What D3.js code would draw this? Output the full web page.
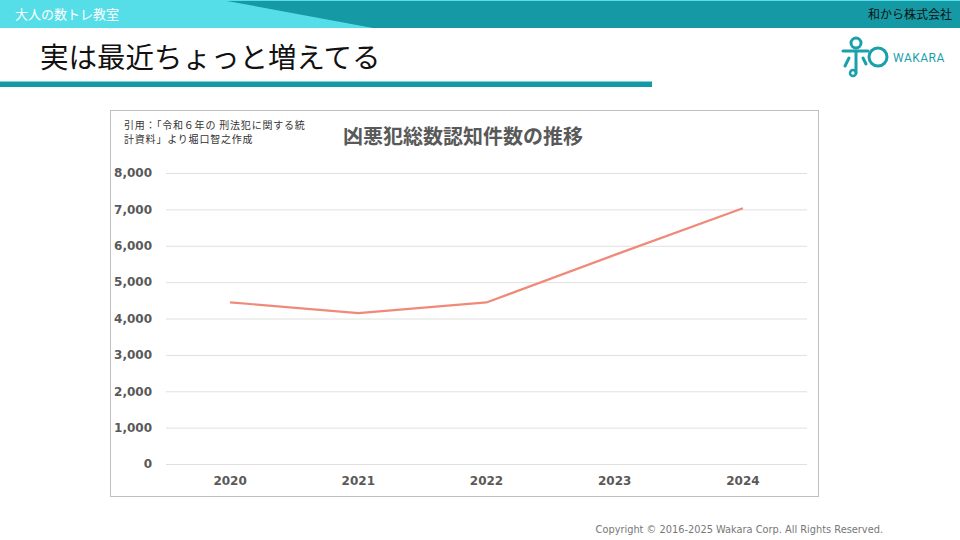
<!DOCTYPE html>
<html>
<head>
<meta charset="utf-8">
<script src="https://cdn.jsdelivr.net/npm/d3@7"></script>
<style>
  body { margin: 0; background: #fff; }
  svg { display: block; font-family: "Noto Sans CJK JP", "Noto Sans", sans-serif; }
</style>
</head>
<body>
<svg id="chart" width="960" height="540"></svg>
<script>
// data
var years = ["2020", "2021", "2022", "2023", "2024"];
var counts = [4444, 4149, 4441, 5750, 7030];
var yTicks = [0, 1000, 2000, 3000, 4000, 5000, 6000, 7000, 8000];
var sourceLines = ["引用：「令和６年の 刑法犯に関する統", "計資料」より堀口智之作成"];

var svg = d3.select("#chart");

// header band
svg.append("rect").attr("x", 0).attr("y", 0).attr("width", 960).attr("height", 28)
    .attr("fill", "#55dde8");
svg.append("path").attr("d", "M227,1 L960,1 L960,28 L373,28 Z").attr("fill", "#1499a5");
svg.append("text").attr("x", 15).attr("y", 19).attr("fill", "#fff")
    .attr("font-size", 13).text("大人の数トレ教室");
svg.append("text").attr("x", 952).attr("y", 19).attr("text-anchor", "end")
    .attr("fill", "#111").attr("font-size", 12).text("和から株式会社");

// page title
svg.append("text").attr("x", 40).attr("y", 68).attr("fill", "#111")
    .attr("font-size", 28.5).text("実は最近ちょっと増えてる");
svg.append("rect").attr("x", 0).attr("y", 81).attr("width", 652).attr("height", 6)
    .attr("fill", "#1499a5");
svg.append("rect").attr("x", 0).attr("y", 81).attr("width", 652).attr("height", 1)
    .attr("fill", "#7fd3da");

// logo
var logo = svg.append("g").attr("fill", "none").attr("stroke", "#1aa0ab")
    .attr("stroke-width", 3).attr("stroke-linecap", "round");
logo.append("circle").attr("cx", 878).attr("cy", 57).attr("r", 9);
logo.append("path").attr("d", "M843,51 L868,51");
logo.append("path").attr("d", "M856,51 L856,73");
logo.append("circle").attr("cx", 856).attr("cy", 43).attr("r", 5);
logo.append("path").attr("d", "M849,58 L845,66");
logo.append("path").attr("d", "M863,58 L866,64");
logo.append("circle").attr("cx", 853).attr("cy", 73).attr("r", 3).attr("stroke-width", 2.5);
svg.append("text").attr("x", 893).attr("y", 62).attr("fill", "#1aa0ab")
    .attr("font-family", "Roboto, sans-serif").attr("font-size", 12)
    .attr("letter-spacing", 0.5).text("WAKARA");

// chart frame
svg.append("rect").attr("x", 110.5).attr("y", 110.5).attr("width", 708).attr("height", 386)
    .attr("fill", "#fff").attr("stroke", "#bfbfbf");

// source note, two lines
sourceLines.forEach(function(d, i) {
  svg.append("text").attr("x", 124).attr("y", 128.5 + i * 14.6)
      .attr("fill", "#333").attr("font-size", 10).attr("letter-spacing", 0.8)
      .text(d);
});

svg.append("text").attr("x", 463).attr("y", 144).attr("text-anchor", "middle")
    .attr("fill", "#595959").attr("font-size", 20).attr("font-weight", "bold")
    .text("凶悪犯総数認知件数の推移");

var margin = {top: 173, left: 166, right: 153, bottom: 76};
var width = 960 - margin.left - margin.right,
    height = 540 - margin.top - margin.bottom;

var x = d3.scaleBand().domain(years).range([0, width]);
var y = d3.scaleLinear().domain([0, 8000]).range([height, 0]);

var g = svg.append("g")
    .attr("transform", "translate(" + margin.left + "," + margin.top + ")");

// gridlines + y labels
var yAxis = g.append("g")
    .call(d3.axisLeft(y).tickValues(yTicks).tickSize(-width).tickPadding(14)
      .tickFormat(d3.format(",")));
yAxis.select(".domain").remove();
yAxis.selectAll("line").attr("stroke", "#e0e0e0");
yAxis.selectAll("text").attr("fill", "#595959").attr("font-size", 12)
    .attr("font-weight", "bold").attr("font-family", "Verdana, 'DejaVu Sans', sans-serif");

var xAxis = g.append("g").attr("transform", "translate(0," + height + ")")
    .call(d3.axisBottom(x).tickSize(0).tickPadding(12));
xAxis.select(".domain").remove();
xAxis.selectAll("text").attr("fill", "#595959").attr("font-size", 12)
    .attr("font-weight", "bold").attr("font-family", "Verdana, 'DejaVu Sans', sans-serif");

var line = d3.line()
    .x(function(d, i) { return x(years[i]) + x.bandwidth() / 2; })
    .y(function(d) { return y(d); });

g.append("path").datum(counts)
    .attr("fill", "none").attr("stroke", "#f08a78").attr("stroke-width", 2.2)
    .attr("d", line);

// footer
svg.append("text").attr("x", 883).attr("y", 533).attr("text-anchor", "end")
    .attr("fill", "#777").attr("font-size", 9.8).attr("font-family", "Verdana, 'DejaVu Sans', sans-serif")
    .text("Copyright © 2016-2025 Wakara Corp. All Rights Reserved.");
</script>
</body>
</html>
